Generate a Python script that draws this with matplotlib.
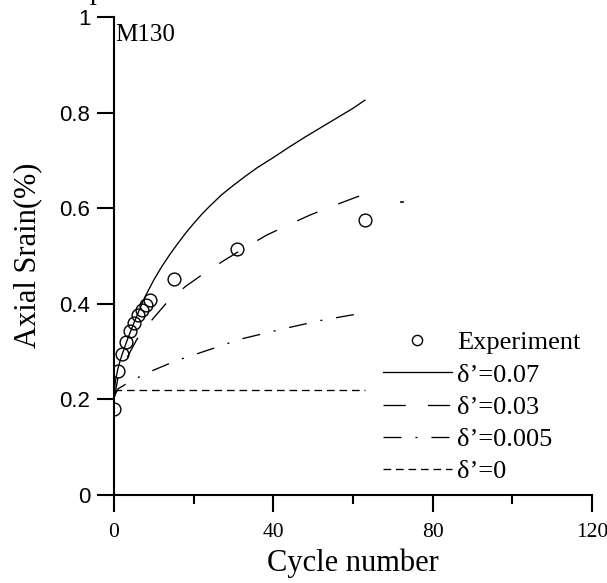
import matplotlib
matplotlib.use("Agg")
import matplotlib.pyplot as plt

plt.rcParams['lines.scale_dashes'] = False

SERIF = ['Liberation Serif', 'DejaVu Serif']
SANS = ['Liberation Sans', 'DejaVu Sans']

# Experiment
exp_x = [0, 1, 2, 3, 4, 5, 6, 7, 8, 9, 15, 31, 63]
exp_y = [0.18, 0.26, 0.296, 0.32, 0.343, 0.36, 0.376, 0.387, 0.397, 0.408, 0.452, 0.515, 0.575]

# delta' = 0.07
d07_x = [0, 0.25, 0.5, 1, 1.5, 2, 3, 4, 5, 6, 7, 8, 9, 10, 12, 14, 16, 18, 20, 22, 24,
         27, 30, 33, 36, 40, 44, 48, 52, 56, 60, 63]
d07_y = [0.2, 0.23, 0.245, 0.265, 0.28, 0.293, 0.317, 0.339, 0.36, 0.38, 0.40, 0.418,
         0.434, 0.45, 0.478, 0.503, 0.526, 0.548, 0.568, 0.587, 0.604, 0.628, 0.648, 0.667,
         0.685, 0.706, 0.728, 0.749, 0.769, 0.789, 0.809, 0.826]

# delta' = 0.03
d03_x = [0, 1, 2.8, 5.7, 9.5, 13, 17.9, 22, 27.5, 33, 38.4, 44, 49.3, 56, 63]
d03_y = [0.2, 0.245, 0.28, 0.325, 0.366, 0.40, 0.436, 0.46, 0.49, 0.518, 0.544, 0.566, 0.586, 0.608, 0.63]

# delta' = 0.005
d005_x = [0, 1, 4, 8.2, 15.3, 20, 27.5, 31.7, 39.7, 44.3, 51.8, 60.6, 63]
d005_y = [0.205, 0.222, 0.237, 0.255, 0.28, 0.293, 0.314, 0.326, 0.342, 0.351, 0.365, 0.378, 0.382]

# delta' = 0
d0_x = [0, 63]
d0_y = [0.22, 0.22]

# stray mark
stray_x = [72.0, 72.6]
stray_y = [0.612, 0.612]

labels = ['Experiment', 'δ’=0.07', 'δ’=0.03', 'δ’=0.005', 'δ’=0']
x_ticks = [0, 40, 80, 120]
x_minor = [20, 60, 100]
y_ticks = [0, 0.2, 0.4, 0.6, 0.8, 1]
y_ticklabels = ['0', '0.2', '0.4', '0.6', '0.8', '1']

fig = plt.figure(figsize=(6.07, 5.83), dpi=100)
ax = fig.add_axes([114/607, 1-495/583, (592-114)/607, (495-17)/583])

lw = 0.95
h_exp, = ax.plot(exp_x, exp_y, linestyle='none', marker='o', markersize=9.2,
                 markerfacecolor='none', markeredgecolor='black', markeredgewidth=1.0,
                 label=labels[0], zorder=5)
h07, = ax.plot(d07_x, d07_y, color='black', lw=lw, label=labels[1])
h03, = ax.plot(d03_x, d03_y, color='black', lw=lw, label=labels[2])
h03.set_dashes([16, 16])
h005, = ax.plot(d005_x, d005_y, color='black', lw=lw, label=labels[3])
h005.set_dashes([13, 10, 1.5, 10])
h0, = ax.plot(d0_x, d0_y, color='black', lw=lw, label=labels[4])
h0.set_dashes([5.5, 3.5])
ax.plot(stray_x, stray_y, color='black', lw=1.2)

ax.set_xlim(0, 120)
ax.set_ylim(0, 1)
ax.set_xticks(x_ticks)
ax.set_xticks(x_minor, minor=True)
ax.set_yticks(y_ticks)
ax.set_yticklabels(y_ticklabels)

for s in ['top', 'right']:
    ax.spines[s].set_visible(False)
for s in ['left', 'bottom']:
    ax.spines[s].set_linewidth(1.5)

ax.tick_params(axis='x', which='major', direction='out', length=12, width=1.5, pad=8)
ax.tick_params(axis='x', which='minor', direction='out', length=6.5, width=1.5)
ax.tick_params(axis='y', which='major', direction='out', length=12, width=1.5, pad=5)
for t in ax.get_xticklabels():
    t.set_fontfamily(SERIF)
    t.set_fontsize(15.5)
for t in ax.get_yticklabels():
    t.set_fontfamily(SANS)
    t.set_fontsize(16)

ax.set_xlabel('Cycle number', fontfamily=SERIF, fontsize=22)
ax.xaxis.set_label_coords(0.5, (495-563)/478)
ax.xaxis.label.set_va('center')
ax.set_ylabel('Axial Srain(%)', fontfamily=SERIF, fontsize=22)
ax.yaxis.set_label_coords((28-114)/478, (495-255)/478)
ax.yaxis.label.set_va('center')

ax.text(0.002, 0.985, 'M130', transform=ax.transAxes, fontfamily=SERIF,
        fontsize=18, ha='left', va='top')
fig.text(97/607, 1+1/583, 'p', fontfamily=SERIF, fontsize=20, ha='center', va='baseline')

leg = ax.legend(handles=[h_exp, h07, h03, h005, h0], loc='center left',
                bbox_to_anchor=((383-114)/478, (495-407)/478), frameon=False,
                prop={'family': SERIF, 'size': 19}, handlelength=2.6,
                handletextpad=0.2, labelspacing=0.33, borderpad=0, borderaxespad=0,
                markerscale=0.8)

fig.savefig('out.png', dpi=100)
